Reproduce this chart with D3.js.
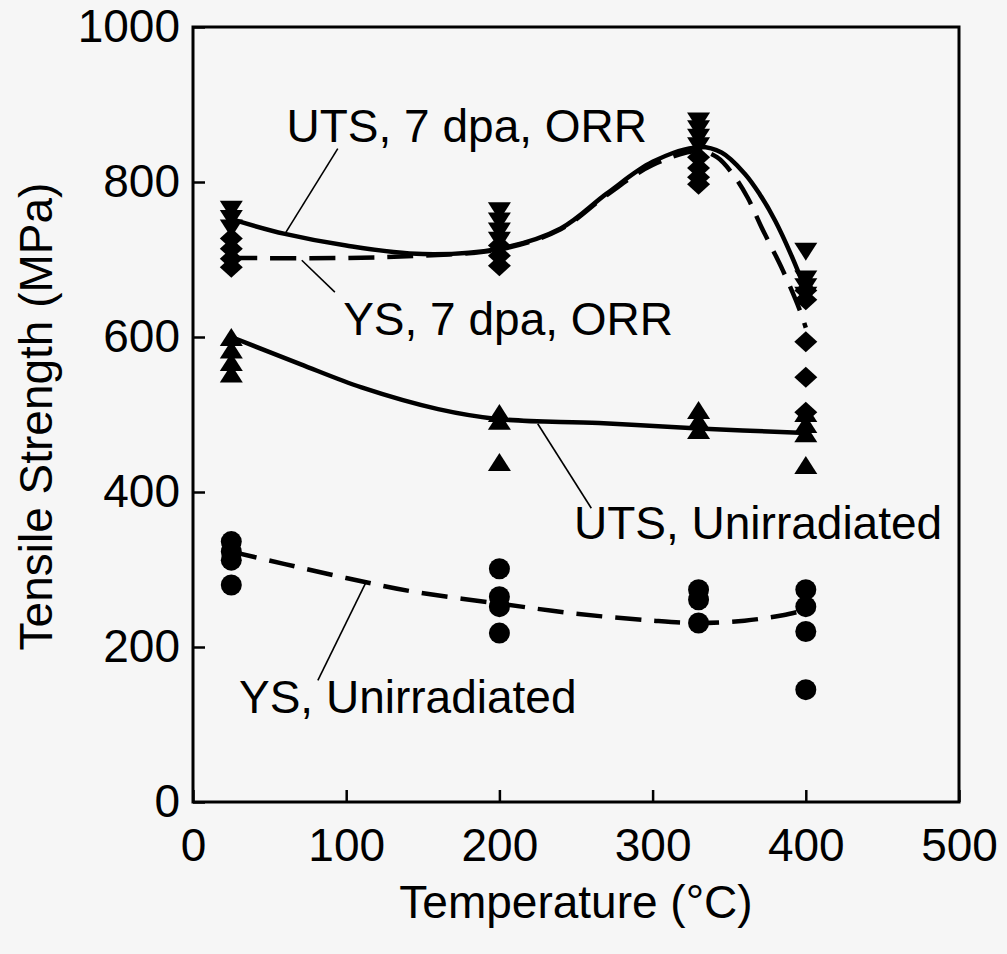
<!DOCTYPE html>
<html>
<head>
<meta charset="utf-8">
<script src="https://cdn.jsdelivr.net/npm/d3@7"></script>
<style>
  html, body { margin: 0; padding: 0; background: #f6f6f6; }
  svg { display: block; }
  text { font-family: "Liberation Sans", Arial, Helvetica, sans-serif; fill: #000; }
</style>
</head>
<body>
<svg id="chart" width="1007" height="954"></svg>
<script>
// ---------------- data ----------------
const xTicks = [0, 100, 200, 300, 400, 500];
const yTicks = [0, 200, 400, 600, 800, 1000];
const xTitle = "Temperature (°C)";
const yTitle = "Tensile Strength (MPa)";

// measured points: [temperature, MPa]
const utsIrrPoints = [
  [25, 768], [25, 756], [25, 744],
  [200, 766], [200, 753], [200, 740], [200, 728],
  [330, 882], [330, 872], [330, 861], [330, 850],
  [400, 714], [400, 678], [400, 668], [400, 657]
];
const ysIrrPoints = [
  [25, 727], [25, 714], [25, 701], [25, 690],
  [200, 718], [200, 705], [200, 692],
  [330, 832], [330, 818], [330, 806], [330, 797],
  [400, 660], [400, 648], [400, 594], [400, 548], [400, 503]
];
const utsUnirrPoints = [
  [25, 596], [25, 580], [25, 564], [25, 549],
  [200, 498], [200, 488], [200, 435],
  [330, 502], [330, 488], [330, 476],
  [400, 498], [400, 484], [400, 472], [400, 431]
];
const ysUnirrPoints = [
  [25, 336], [25, 323], [25, 312], [25, 280],
  [200, 301], [200, 265], [200, 252], [200, 218],
  [330, 274], [330, 261], [330, 231],
  [400, 274], [400, 252], [400, 220], [400, 145]
];

// fitted curves
const utsIrrCurve = [[25,752],[60,733],[100,718],[150,707],[200,714],[240,740],[270,785],[300,826],[330,845],[345,838],[360,811],[370,784],[380,750],[390,708],[400,660]];
const ysIrrCurve  = [[25,702],[100,702],[150,705],[200,713],[240,739],[270,783],[300,822],[330,840],[342,832],[352,811],[362,780],[371,742],[385,686],[396,635],[400,612]];
const utsUnirrCurve = [[25,600],[70,565],[110,535],[160,507],[200,494],[265,489],[330,482],[400,476]];
const ysUnirrCurve  = [[25,323],[60,307],[100,289],[145,271],[200,256],[250,243],[300,234],[330,231],[360,234],[385,241],[400,248]];

// annotation labels and their leader lines (data units)
const labelTexts = ["UTS, 7 dpa, ORR", "YS, 7 dpa, ORR", "UTS, Unirradiated", "YS, Unirradiated"];
const leaderLines = [
  [[60, 733], [94.5, 843]],
  [[71, 699], [92.6, 658]],
  [[225, 488], [260, 379]],
  [[112.8, 283], [81.5, 157]]
];

// ---------------- layout ----------------
const svg = d3.select("#chart");
const x = d3.scaleLinear().domain([0, 500]).range([193, 959]);
const y = d3.scaleLinear().domain([0, 1000]).range([802, 27]);

// axes (inward ticks)
const gx = svg.append("g").attr("transform", `translate(0,${y(0)})`)
  .call(d3.axisBottom(x).tickValues(xTicks).tickSize(-12).tickPadding(26).tickFormat(d3.format("d")));
const gy = svg.append("g").attr("transform", `translate(${x(0)},0)`)
  .call(d3.axisLeft(y).tickValues(yTicks).tickSize(-12).tickPadding(13).tickFormat(d3.format("d")));
[gx, gy].forEach(g => {
  g.select(".domain").remove();
  g.selectAll(".tick line").attr("stroke", "#000").attr("stroke-width", 2.5);
  g.selectAll(".tick text").attr("font-size", 46).attr("fill", "#000")
    .style("font-family", '"Liberation Sans", Arial, sans-serif');
});

// frame
svg.append("rect")
  .attr("x", x(0)).attr("y", y(1000))
  .attr("width", x(500) - x(0)).attr("height", y(0) - y(1000))
  .attr("fill", "none").attr("stroke", "#000").attr("stroke-width", 3);

// axis titles
svg.append("text").attr("x", (x(0) + x(500)) / 2).attr("y", 918)
  .attr("text-anchor", "middle").attr("font-size", 46).text(xTitle);
svg.append("text")
  .attr("transform", `translate(52,${(y(0) + y(1000)) / 2 + 2}) rotate(-90)`)
  .attr("text-anchor", "middle").attr("font-size", 46).text(yTitle);

// curves
const line = d3.line().x(d => x(d[0])).y(d => y(d[1])).curve(d3.curveCatmullRom.alpha(0.5));
svg.append("path").datum(utsIrrCurve).attr("d", line)
  .attr("fill", "none").attr("stroke", "#000").attr("stroke-width", 4.5).attr("stroke-linecap", "round");
svg.append("path").datum(ysIrrCurve).attr("d", line)
  .attr("fill", "none").attr("stroke", "#000").attr("stroke-width", 4.5)
  .attr("stroke-dasharray", "26,13");
svg.append("path").datum(utsUnirrCurve).attr("d", line)
  .attr("fill", "none").attr("stroke", "#000").attr("stroke-width", 4.5).attr("stroke-linecap", "round");
svg.append("path").datum(ysUnirrCurve).attr("d", line)
  .attr("fill", "none").attr("stroke", "#000").attr("stroke-width", 4.5)
  .attr("stroke-dasharray", "26,13");

// marker shapes
const triDown = { draw(ctx) { const w = 11.5, h = 18;
  ctx.moveTo(-w, -h / 3); ctx.lineTo(w, -h / 3); ctx.lineTo(0, 2 * h / 3); ctx.closePath(); } };
const triUp = { draw(ctx) { const w = 11.5, h = 18;
  ctx.moveTo(-w, h / 3); ctx.lineTo(w, h / 3); ctx.lineTo(0, -2 * h / 3); ctx.closePath(); } };
const diamond = { draw(ctx) { const w = 11.5, h = 10.5;
  ctx.moveTo(0, -h); ctx.lineTo(w, 0); ctx.lineTo(0, h); ctx.lineTo(-w, 0); ctx.closePath(); } };
const circle = { draw(ctx) { ctx.moveTo(10.5, 0); ctx.arc(0, 0, 10.5, 0, 2 * Math.PI); } };

function markers(data, type) {
  svg.append("g").selectAll("path").data(data).join("path")
    .attr("transform", d => `translate(${x(d[0])},${y(d[1])})`)
    .attr("d", d3.symbol().type(type)())
    .attr("fill", "#000");
}
markers(ysIrrPoints, diamond);
markers(utsIrrPoints, triDown);
markers(utsUnirrPoints, triUp);
markers(ysUnirrPoints, circle);

// leader lines
svg.append("g").selectAll("line").data(leaderLines).join("line")
  .attr("x1", d => x(d[0][0])).attr("y1", d => y(d[0][1]))
  .attr("x2", d => x(d[1][0])).attr("y2", d => y(d[1][1]))
  .attr("stroke", "#000").attr("stroke-width", 1.6);

// annotation labels
const labelPos = [
  { x: 647, y: 142, anchor: "end" },
  { x: 673, y: 335, anchor: "end" },
  { x: 574, y: 539, anchor: "start" },
  { x: 239, y: 713, anchor: "start" }
];
svg.append("g").selectAll("text").data(labelTexts).join("text")
  .attr("x", (d, i) => labelPos[i].x).attr("y", (d, i) => labelPos[i].y)
  .attr("text-anchor", (d, i) => labelPos[i].anchor)
  .attr("font-size", 46).text(d => d);
</script>
</body>
</html>
